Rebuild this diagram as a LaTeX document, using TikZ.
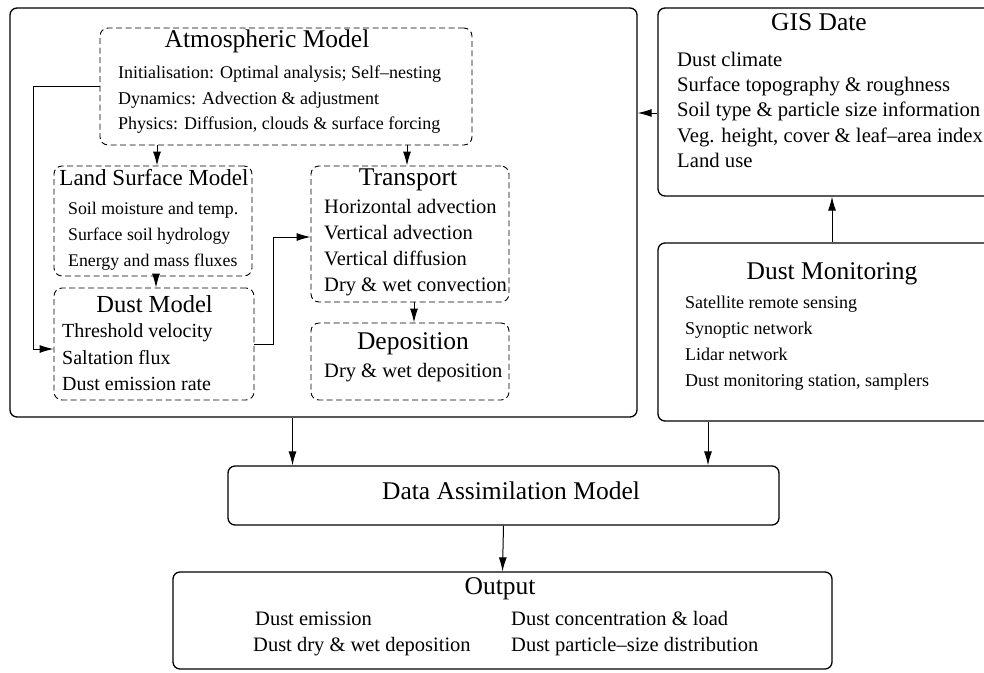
\documentclass[tikz,border=0pt]{standalone}
\usepackage{fontspec}
\setmainfont{Liberation Serif}
\usetikzlibrary{arrows.meta,calc}
\newcommand{\myfs}[1]{\fontsize{#1}{#1}\selectfont}
\begin{document}
\begin{tikzpicture}[x=1pt,y=-1pt,
  sbox/.style={draw, line width=1.3pt, rounded corners=7pt, inner sep=0pt},
  dbox/.style={draw, line width=0.9pt, dash pattern=on 6pt off 3.5pt, rounded corners=8pt, inner sep=0pt},
  ttl/.style={inner sep=0pt, text height=0.7em, text depth=0.22em},
  txt/.style={inner sep=0pt, anchor=west, text height=0.7em, text depth=0.22em},
  arr/.style={line width=1pt, -{Latex[length=14pt,width=8pt]}}]
\useasboundingbox (0,0) rectangle (984,672);
\clip (0,0) rectangle (984,672);
\fill[white] (0,0) rectangle (984,672);

% boxes
\node[sbox, minimum width=627pt, minimum height=409pt] (outer) at (323.5,212.5) {};
\node[dbox, minimum width=372pt, minimum height=117pt] (atm) at (286,86.5) {};
\node[dbox, minimum width=198pt, minimum height=110pt] (lsm) at (153,221) {};
\node[dbox, minimum width=200pt, minimum height=112pt] (dust) at (154,344) {};
\node[dbox, minimum width=198pt, minimum height=136pt] (trans) at (410,234) {};
\node[dbox, minimum width=198pt, minimum height=77pt] (dep) at (410,361.5) {};
\node[sbox, minimum width=348pt, minimum height=188pt] (gis) at (832,102) {};
\node[sbox, minimum width=348pt, minimum height=178pt] (dm) at (832,332) {};
\node[sbox, minimum width=551pt, minimum height=59pt] (da) at (503.5,495.5) {};
\node[sbox, minimum width=659pt, minimum height=97pt] (out) at (502.5,620.5) {};

% Atmospheric model
\node[ttl, font=\myfs{25.5}] (atmT) at (267,45) {Atmospheric Model};
\node[txt, font=\myfs{18}] (atm1) at (118,76) {Initialisation: Optimal analysis; Self--nesting};
\node[txt, font=\myfs{18}] (atm2) at (118,102) {Dynamics: Advection \& adjustment};
\node[txt, font=\myfs{18}] (atm3) at (118,127) {Physics: Diffusion, clouds \& surface forcing};

% Land surface model
\node[ttl, font=\myfs{23}] (lsmT) at (154,183) {Land Surface Model};
\node[txt, font=\myfs{17.8}] (lsm1) at (68,212) {Soil moisture and temp.};
\node[txt, font=\myfs{17.8}] (lsm2) at (68,238) {Surface soil hydrology};
\node[txt, font=\myfs{17.8}] (lsm3) at (68,264) {Energy and mass fluxes};

% Dust model
\node[ttl, font=\myfs{24.5}] (dustT) at (154.5,310) {Dust Model};
\node[txt, font=\myfs{20}] (dust1) at (62,335) {Threshold velocity};
\node[txt, font=\myfs{20}] (dust2) at (62,362) {Saltation flux};
\node[txt, font=\myfs{20}] (dust3) at (62,388) {Dust emission rate};

% Transport
\node[ttl, font=\myfs{25.5}] (transT) at (408,183) {Transport};
\node[txt, font=\myfs{20.5}] (trans1) at (324,211) {Horizontal advection};
\node[txt, font=\myfs{20.5}] (trans2) at (324,237) {Vertical advection};
\node[txt, font=\myfs{20.5}] (trans3) at (324,263) {Vertical diffusion};
\node[txt, font=\myfs{20.5}] (trans4) at (324,289) {Dry \& wet convection};

% Deposition
\node[ttl, font=\myfs{25.5}] (depT) at (413,347) {Deposition};
\node[txt, font=\myfs{20.5}] (dep1) at (324,375) {Dry \& wet deposition};

% GIS
\node[ttl, font=\myfs{25.5}] (gisT) at (819,28) {GIS Date};
\node[txt, font=\myfs{20.7}] (gis1) at (677,64) {Dust climate};
\node[txt, font=\myfs{20.7}] (gis2) at (677,89) {Surface topography \& roughness};
\node[txt, font=\myfs{20.7}] (gis3) at (677,114) {Soil type \& particle size information};
\node[txt, font=\myfs{20.7}] (gis4) at (677,140) {Veg. height, cover \& leaf--area index};
\node[txt, font=\myfs{20.7}] (gis5) at (677,165) {Land use};

% Dust monitoring
\node[ttl, font=\myfs{25.5}] (dmT) at (832,277) {Dust Monitoring};
\node[txt, font=\myfs{18}] (dm1) at (685,306) {Satellite remote sensing};
\node[txt, font=\myfs{18}] (dm2) at (685,332) {Synoptic network};
\node[txt, font=\myfs{18}] (dm3) at (685,358) {Lidar network};
\node[txt, font=\myfs{18}] (dm4) at (685,384) {Dust monitoring station, samplers};

% Data assimilation
\node[ttl, font=\myfs{25.5}] (daT) at (511,497) {Data Assimilation Model};

% Output
\node[ttl, font=\myfs{25.5}] (outT) at (500,592) {Output};
\node[txt, font=\myfs{20.5}] (out1) at (255,623) {Dust emission};
\node[txt, font=\myfs{20.5}] (out2) at (253,649) {Dust dry \& wet deposition};
\node[txt, font=\myfs{20.5}] (out3) at (511,623) {Dust concentration \& load};
\node[txt, font=\myfs{20.5}] (out4) at (511,649) {Dust particle--size distribution};

% connectors
\coordinate (c1) at ([xshift=4pt]lsm.north);
\draw[arr] (c1 |- atm.south) -- (c1);
\coordinate (c2) at ([xshift=-3pt]trans.north);
\draw[arr] (c2 |- atm.south) -- (c2);
\coordinate (c3) at ([xshift=2pt]dust.north);
\draw[arr] (c3 |- lsm.south) -- (c3);
\coordinate (c4) at ([xshift=4pt]dep.north);
\draw[arr] (c4 |- trans.south) -- (c4);
\draw[arr] (dust.east) -- ++(19,0) |- ([yshift=-3pt]trans.west);
\draw[arr] (atm.west) -- ++(-66,0) |- ([yshift=-5pt]dust.west);
\coordinate (c5) at ([yshift=-11pt]gis.west);
\draw[arr] (c5) -- (c5 -| outer.east);
\draw[arr] (dm.north) -- (gis.south);
\coordinate (c6) at ([xshift=-211pt]da.north);
\draw[arr] (c6 |- outer.south) -- (c6);
\coordinate (c7) at ([xshift=-124pt]dm.south);
\draw[arr] (c7) -- (c7 |- da.north);
\draw[arr] (da.south) -- (out.north);
\end{tikzpicture}
\end{document}
